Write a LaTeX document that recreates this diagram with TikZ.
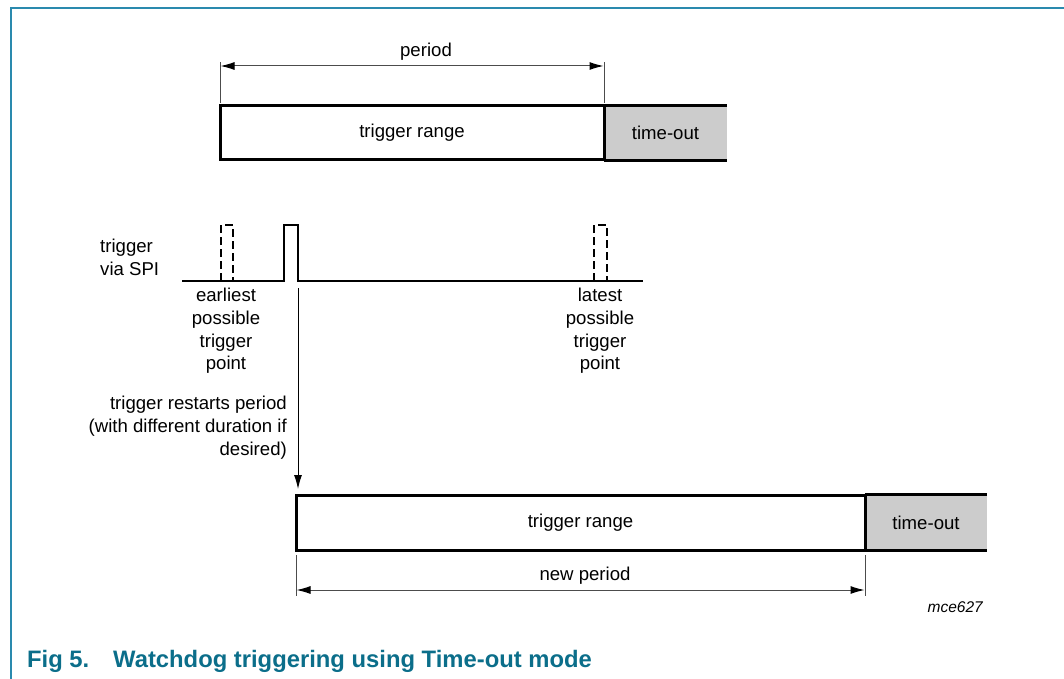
\documentclass[tikz,border=0pt]{standalone}
\usepackage{fontspec}
\setmainfont{Liberation Sans}
\usetikzlibrary{arrows.meta}
\definecolor{framecol}{HTML}{2A8AAE}
\definecolor{capcol}{HTML}{0B6E8A}
\definecolor{tofill}{HTML}{CCCCCC}
\tikzset{
  x=1pt, y=-1pt,
  lbl/.style={font=\fontsize{18.6}{22.7}\selectfont, inner sep=0pt, align=center},
  rangebox/.style={draw=black, line width=3pt, fill=white, inner sep=0pt, font=\fontsize{18.6}{22.7}\selectfont},
  tobox/.style={fill=tofill, inner sep=0pt, font=\fontsize{18.6}{22.7}\selectfont},
  boxedge/.style={line width=3pt, black},
  extline/.style={line width=1pt, black!70},
  dimarrow/.style={line width=1pt, black!70, {Latex[length=14pt,width=8pt,fill=black,color=black]}-{Latex[length=14pt,width=8pt,fill=black,color=black]}},
  sigline/.style={line width=2.6pt, black},
  sigdash/.style={line width=2.6pt, black, dash pattern=on 8pt off 4pt},
  downarrow/.style={line width=1pt, black, -{Latex[length=14pt,width=8pt]}},
  caption/.style={font=\fontsize{23.8}{28}\selectfont\bfseries, text=capcol, inner sep=0pt}
}
\begin{document}
\begin{tikzpicture}
\useasboundingbox (0,0) rectangle (1064,679);
% frame
\draw[framecol, line width=2pt] (11,679) -- (11,8) -- (1064,8);

% top boxes
\node[tobox, minimum width=123pt, minimum height=54pt] (to1) at (665.5,133) {time-out};
\draw[boxedge] (to1.north west) -- (to1.north east);
\draw[boxedge] (to1.south west) -- (to1.south east);
\node[rangebox, minimum width=384pt, minimum height=54pt] (tr1) at (412,133) {trigger range};

% period dimension
\coordinate (p1top) at (220,62);
\coordinate (p2top) at (604,62);
\coordinate (p1b) at (220,103);
\coordinate (p2b) at (604,103);
\draw[extline] (p1b) -- (p1top);
\draw[extline] (p2b) -- (p2top);
\coordinate (pa) at (220.5,66);
\coordinate (pb) at (603.5,66);
\draw[dimarrow] (pa) -- (pb);
\node[lbl] (period) at (426,52) {period};

% trigger signal
\coordinate (s0) at (182,281);
\coordinate (s1) at (643,281);
\draw[sigline, line join=miter] (s0) -- (284,281) -- (284,225) -- (298,225) -- (298,281) -- (s1);
\draw[sigdash] (221,281) -- (221,225) -- (233,225) -- (233,281);
\draw[sigdash] (594,281) -- (594,225) -- (607,225) -- (607,281);

\node[lbl, align=left, anchor=west] (spi) at (100,257.5) {trigger\\via SPI};
\node[lbl, anchor=north] (earliest) at (226,288) {earliest\\possible\\trigger\\point};
\node[lbl, anchor=north] (latest) at (600,288) {latest\\possible\\trigger\\point};
\node[lbl, align=right, anchor=north east] (restart) at (287,396) {trigger restarts period\\(with different duration if\\desired)};

% restart arrow
\coordinate (pulse) at (298,288);
\coordinate (tip) at (298,489);
\draw[downarrow] (pulse) -- (tip);

% bottom boxes
\node[tobox, minimum width=122pt, minimum height=55pt] (to2) at (926,522.5) {time-out};
\draw[boxedge] (to2.north west) -- (to2.north east);
\draw[boxedge] (to2.south west) -- (to2.south east);
\node[rangebox, minimum width=569pt, minimum height=55pt] (tr2) at (580.5,522.5) {trigger range};

% new period dimension
\coordinate (n1top) at (296,555);
\coordinate (n2top) at (865,555);
\coordinate (n1b) at (296,596);
\coordinate (n2b) at (865,596);
\draw[extline] (n1top) -- (n1b);
\draw[extline] (n2top) -- (n2b);
\coordinate (na) at (296.5,590);
\coordinate (nb) at (864.5,590);
\draw[dimarrow] (na) -- (nb);
\node[lbl] (newperiod) at (585,576) {new period};

% tag
\node[font=\fontsize{15.5}{18}\selectfont\itshape, inner sep=0pt, anchor=east] (tag) at (983,607) {mce627};

% caption
\node[caption, anchor=base west] (fig) at (27,667) {Fig 5.};
\node[caption, anchor=base west] (captext) at (113,667) {Watchdog triggering using Time-out mode};
\end{tikzpicture}
\end{document}
